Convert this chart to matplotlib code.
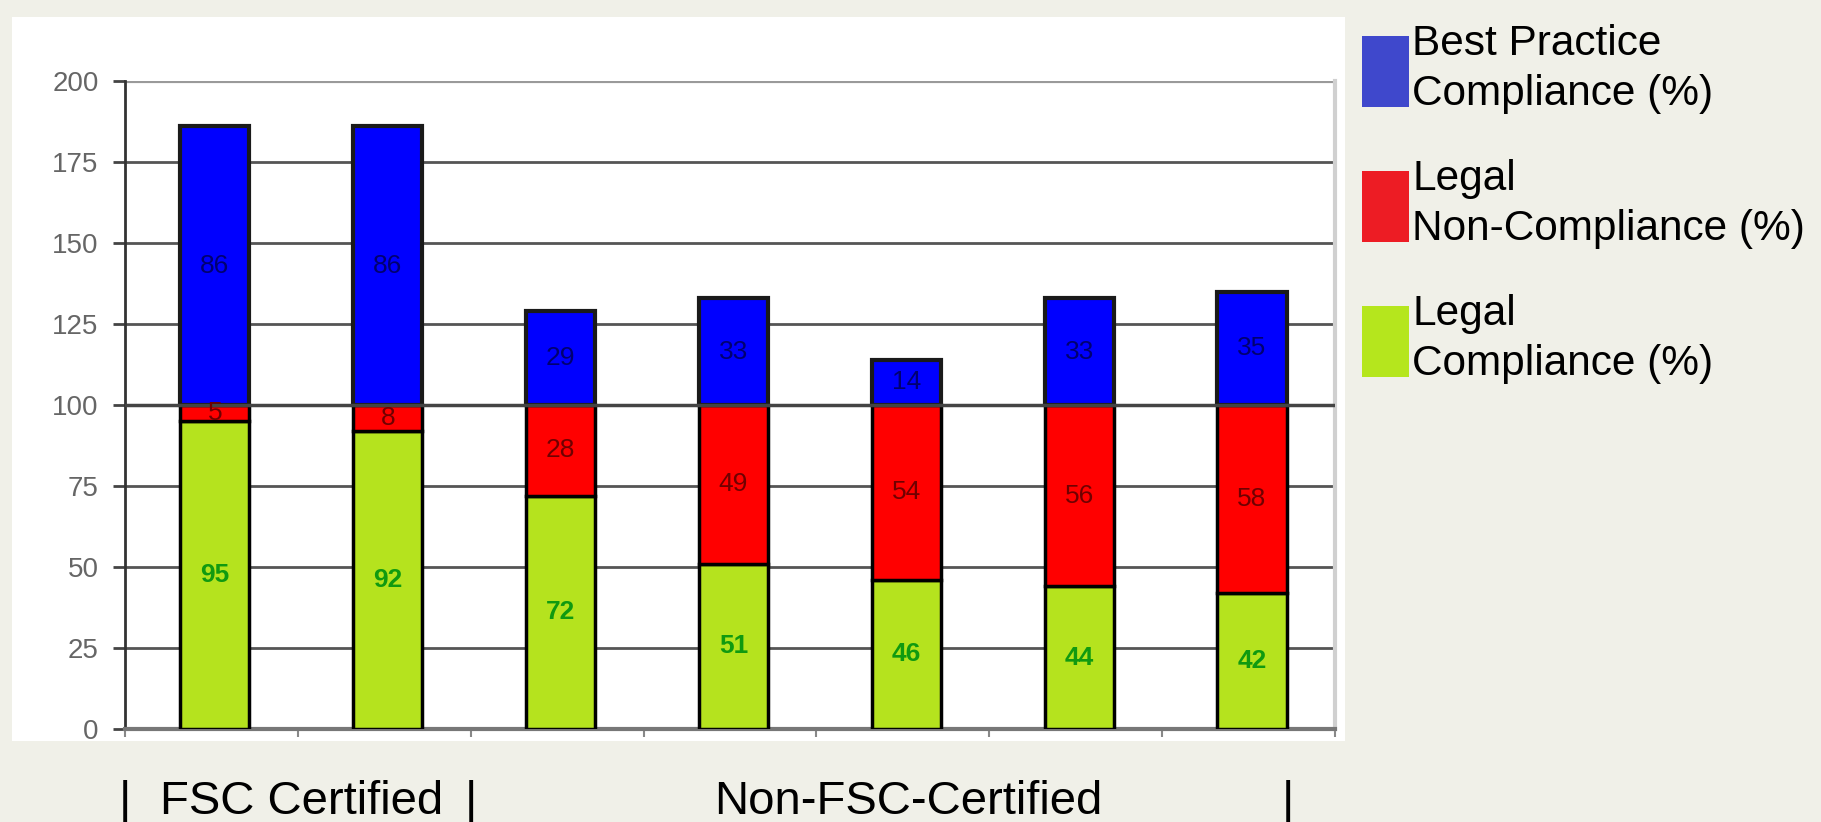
import matplotlib
matplotlib.use("Agg")
import matplotlib.pyplot as plt
import matplotlib.transforms as mtransforms
from matplotlib.patches import Rectangle
import numpy as np

plt.rcParams['font.family'] = ['Liberation Sans', 'DejaVu Sans']

# values, one bar per site
legal_ok = [95, 92, 72, 51, 46, 44, 42]
legal_bad = [5, 8, 28, 49, 54, 56, 58]
best_practice = [86, 86, 29, 33, 14, 33, 35]
yticks = [0, 25, 50, 75, 100, 125, 150, 175, 200]
legend_labels = ["Best Practice\nCompliance (%)",
                 "Legal\nNon-Compliance (%)",
                 "Legal\nCompliance (%)"]
group_labels = ["FSC Certified", "Non-FSC-Certified"]

bg = "#f0f0e8"
c_blue, c_red, c_green = "#0000ff", "#ff0000", "#b5e31e"
c_leg = ["#3f48cc", "#ed1c24", "#b5e61d"]

W, H = 1821, 822
fig = plt.figure(figsize=(W / 100, H / 100), dpi=100, facecolor=bg)

# white chart panel, behind everything
fig.patches.append(Rectangle((12 / W, 1 - 741 / H), (1345 - 12) / W, (741 - 17) / H,
                             transform=fig.transFigure, facecolor="white",
                             edgecolor="none", zorder=-5))

ax = fig.add_axes([125 / W, 1 - 729 / H, (1335 - 125) / W, (729 - 81) / H])
ax.set_zorder(2)
ax.set_facecolor("white")

x = np.arange(len(legal_ok))
bw = 0.40
ok = np.array(legal_ok)
bad = np.array(legal_bad)
bp = np.array(best_practice)

ax.bar(x + 0.02, ok, bw, color=c_green, edgecolor="black", linewidth=2.5, zorder=3)
ax.bar(x + 0.02, bad, bw, bottom=ok, color=c_red, edgecolor="black", linewidth=2.5, zorder=3)
ax.bar(x + 0.02, bp, bw, bottom=ok + bad, color=c_blue, edgecolor="#1a1a1a", linewidth=3, zorder=3)

# labels in the middle of each segment
for i in range(len(x)):
    xc = x[i] + 0.02
    ax.text(xc, ok[i] / 2, str(ok[i]), ha="center", va="center",
            fontsize=19, color="#109a10", fontweight="bold", zorder=5)
    ax.text(xc, ok[i] + bad[i] / 2, str(bad[i]), ha="center", va="center",
            fontsize=19, color="#700000", zorder=5)
    ax.text(xc, ok[i] + bad[i] + bp[i] / 2, str(bp[i]), ha="center", va="center",
            fontsize=19, color="#000070", zorder=5)

# grid
for yv in yticks[1:-1]:
    ax.axhline(yv, color="#555555", lw=2, zorder=1)
ax.axhline(100, color="#444444", lw=2.5, zorder=4)
ax.axhline(200, color="#9a9a9a", lw=3, zorder=1)

ax.set_xlim(-0.5, len(x) - 0.5)
ax.set_ylim(0, 200)
ax.set_yticks(yticks)
ax.set_yticklabels([str(v) for v in yticks], fontsize=20, color="#666666")
ax.tick_params(axis="y", length=9, width=2, color="#444444", pad=10)
ax.set_xticks(np.arange(-0.5, len(x)))
ax.set_xticklabels([])
ax.tick_params(axis="x", length=6, width=1.5, color="#888888")

ax.spines["top"].set_visible(False)
ax.spines["left"].set_color("#333333")
ax.spines["left"].set_linewidth(2)
ax.spines["bottom"].set_color("#777777")
ax.spines["bottom"].set_linewidth(3)
ax.spines["right"].set_color("#d0d0d0")
ax.spines["right"].set_linewidth(3)

# group captions under the axis
tr = mtransforms.blended_transform_factory(ax.transData, fig.transFigure)
ybase = 1 - 814 / H
for xp in [-0.5, 1.5, 6.23]:
    ax.text(xp, ybase, "|", transform=tr, ha="center", va="baseline",
            fontsize=34, color="black", clip_on=False)
ax.text(0.52, ybase, group_labels[0], transform=tr, ha="center", va="baseline",
        fontsize=34, clip_on=False)
ax.text(4.03, ybase, group_labels[1], transform=tr, ha="center", va="baseline",
        fontsize=34, clip_on=False)

# legend drawn by hand to keep the big swatches
tops = [36, 171, 306]
for lab, col, t in zip(legend_labels, c_leg, tops):
    fig.patches.append(Rectangle((1362 / W, 1 - (t + 71) / H), 47 / W, 71 / H,
                                 transform=fig.transFigure, facecolor=col,
                                 edgecolor="none"))
    fig.text(1412 / W, 1 - (t - 12) / H, lab, fontsize=30.5, ha="left", va="top",
             linespacing=1.32, color="black")

fig.savefig("out.png", dpi=100, facecolor=bg)
